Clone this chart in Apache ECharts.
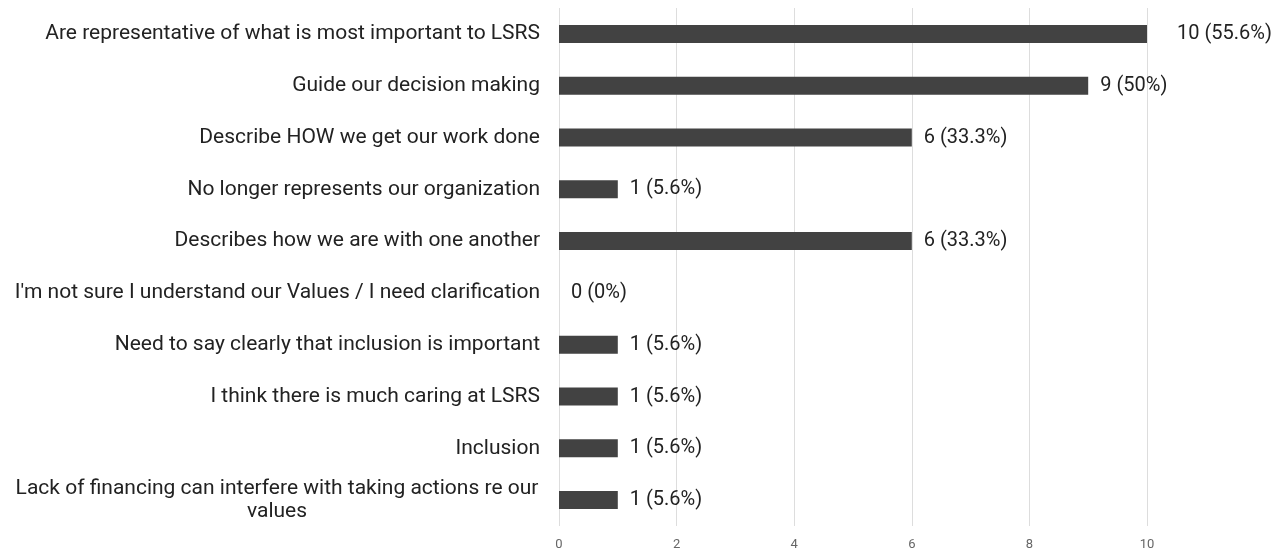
<!DOCTYPE html>
<html>
<head>
<meta charset="utf-8">
<script src="https://cdn.jsdelivr.net/npm/echarts@6/dist/echarts.min.js"></script>
<style>
  html, body { margin: 0; padding: 0; background: #fff; }
  #chart { width: 1285px; height: 554px; }
</style>
</head>
<body>
<div id="chart"></div>
<script>
// Survey responses: what our Values mean to staff
const categories = [
  'Are representative of what is most important to LSRS',
  'Guide our decision making',
  'Describe HOW we get our work done',
  'No longer represents our organization',
  'Describes how we are with one another',
  "I'm not sure I understand our Values / I need clarification",
  'Need to say clearly that inclusion is important',
  'I think there is much caring at LSRS',
  'Inclusion',
  'Lack of financing can interfere with taking actions re our\nvalues'
];
const counts = [10, 9, 6, 1, 6, 0, 1, 1, 1, 1];
const percents = ['55.6%', '50%', '33.3%', '5.6%', '33.3%', '0%', '5.6%', '5.6%', '5.6%', '5.6%'];
const xTicks = [0, 2, 4, 6, 8, 10];

const FONT = 'Roboto, "Noto Sans", sans-serif';

// The label of the full-length bar sits a little further out
const seriesData = counts.map((v) => {
  const item = { value: v };
  if (v === 10) item.label = { offset: [18, 0] };
  return item;
});

const chart = echarts.init(document.getElementById('chart'), null, { renderer: 'canvas' });
chart.setOption({
  backgroundColor: '#ffffff',
  animation: false,
  grid: { left: 559, right: 138, top: 8, bottom: 28, containLabel: false },
  xAxis: {
    type: 'value',
    min: 0,
    max: 10,
    interval: 2,
    axisLine: { show: false },
    axisTick: { show: false },
    splitLine: { show: true, lineStyle: { color: '#dddddd', width: 1 } },
    axisLabel: {
      color: '#666666',
      fontFamily: FONT,
      fontSize: 13,
      margin: 12,
      formatter: v => (xTicks.indexOf(v) >= 0 ? String(v) : '')
    }
  },
  yAxis: {
    type: 'category',
    inverse: true,
    data: categories,
    axisLine: { show: false },
    axisTick: { show: false },
    axisLabel: {
      color: '#222222',
      fontFamily: FONT,
      fontSize: 21,
      margin: 19,
      lineHeight: 23,
      formatter: function (val) {
        if (val.indexOf('\n') >= 0) {
          return val.split('\n').map(s => '{c|' + s + '}').join('\n');
        }
        return val;
      },
      rich: {
        c: { width: 526, align: 'center', fontFamily: FONT, fontSize: 21, color: '#222222', lineHeight: 23 }
      }
    }
  },
  series: [{
    type: 'bar',
    data: seriesData,
    barWidth: 18,
    itemStyle: { color: '#424242' },
    label: {
      show: true,
      position: 'right',
      distance: 12,
      color: '#222222',
      fontFamily: FONT,
      fontSize: 20,
      formatter: p => counts[p.dataIndex] + ' (' + percents[p.dataIndex] + ')'
    }
  }]
});
</script>
</body>
</html>
